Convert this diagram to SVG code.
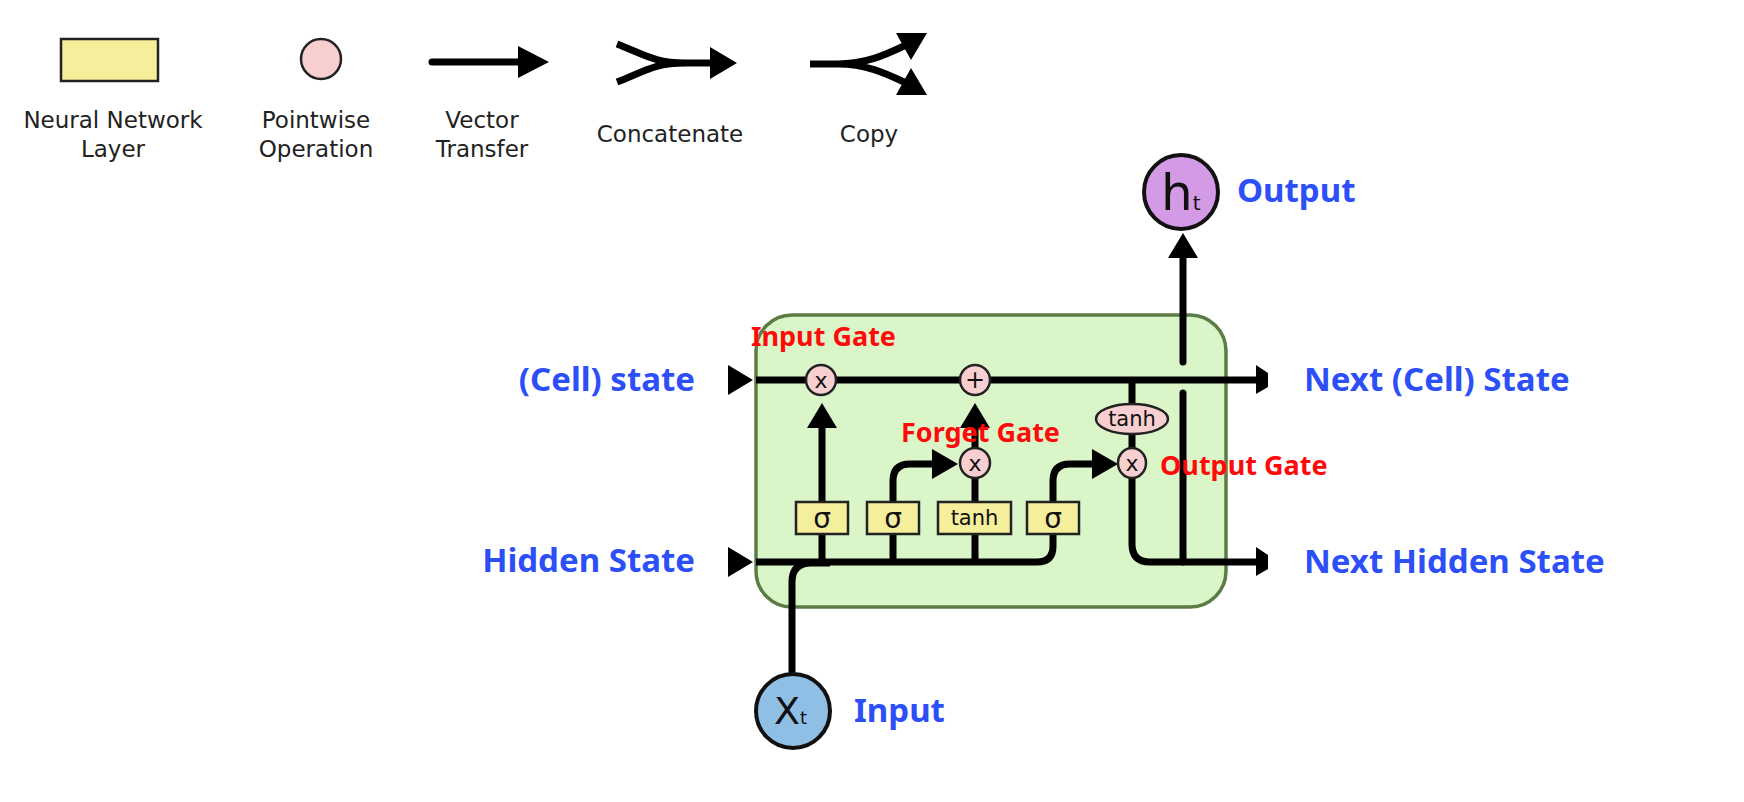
<svg xmlns="http://www.w3.org/2000/svg" width="1744" height="802" viewBox="0 0 1744 802">
<style>
.leg{font-family:"DejaVu Sans",sans-serif;font-size:23px;fill:#222;text-anchor:middle}
.lab{font-family:"Noto Sans","Liberation Sans",sans-serif;font-size:33px;font-weight:bold;fill:#2d4ff7}
.gate{font-family:"Noto Sans","Liberation Sans",sans-serif;font-size:27px;font-weight:bold;fill:#ff0a0a}
.ln{fill:none;stroke:#000;stroke-width:7}
.ah{fill:#000}
.layer{fill:#f5ef9c;stroke:#222;stroke-width:2.5}
.pw{fill:#f8cfd0;stroke:#222;stroke-width:2.5}
.op{font-family:"DejaVu Sans",sans-serif;fill:#111;text-anchor:middle}
</style>
<rect width="1744" height="802" fill="#fff"/>
<g id="legend">
  <rect class="layer" x="61" y="39" width="97" height="42" stroke-width="3"/>
  <text class="leg" x="113" y="128">Neural Network</text>
  <text class="leg" x="113" y="157">Layer</text>
  <circle class="pw" cx="321" cy="59" r="20"/>
  <text class="leg" x="316" y="128">Pointwise</text>
  <text class="leg" x="316" y="157">Operation</text>
  <path class="ln" d="M432,62 H522" stroke-linecap="round"/>
  <polygon class="ah" points="518,46 549,62 518,78"/>
  <text class="leg" x="482" y="128">Vector</text>
  <text class="leg" x="482" y="157">Transfer</text>
  <path class="ln" d="M617,44 C645,55 655,63 685,63 H712 M617,82 C645,71 655,63 685,63"/>
  <polygon class="ah" points="710,47 737,63 710,79"/>
  <text class="leg" x="670" y="142">Concatenate</text>
  <path class="ln" d="M810,64 H838 C865,64 885,55 904,46 M838,64 C865,64 885,73 904,82"/>
  <polygon class="ah" points="927,33 896,33 911,60"/>
  <polygon class="ah" points="927,95 896,95 911,68"/>
  <text class="leg" x="869" y="142">Copy</text>
</g>
<g id="cell">
  <rect x="756" y="315" width="470" height="292" rx="36" fill="#daf6c8" stroke="#5b7c45" stroke-width="3.5"/>
</g>
<g id="connectors">
  <polygon class="ah" points="728,365 753,380 728,395"/>
  <polygon class="ah" points="728,547 753,562 728,577"/>
  <path class="ln" d="M756,380 H1257"/>
  <path class="ln" d="M756,562 H1037 Q1053,562 1053,546 V534"/>
  <path class="ln" d="M792,673 V582 Q792,563 811,563 H830"/>
  <path class="ln" d="M822,562 V534 M893,562 V534 M975,562 V534"/>
  <path class="ln" d="M822,502 V426"/>
  <polygon class="ah" points="807,428 822,403 837,428"/>
  <path class="ln" d="M893,502 V481 Q893,464 910,464 H934"/>
  <polygon class="ah" points="932,449 958,464 932,479"/>
  <path class="ln" d="M975,502 V478 M975,448 V426"/>
  <polygon class="ah" points="960,428 975,403 990,428"/>
  <path class="ln" d="M1053,502 V481 Q1053,464 1070,464 H1094"/>
  <polygon class="ah" points="1092,449 1118,464 1092,479"/>
  <path class="ln" d="M1132,380 V404 M1132,434 V449"/>
  <path class="ln" d="M1132,478 V544 Q1132,562 1150,562 H1257"/>
  <path class="ln" d="M1183,562 V393 M1183,362 V256" stroke-linecap="round"/>
  <polygon class="ah" points="1168,258 1183,233 1198,258"/>
  <polygon class="ah" points="1256,365 1268,373 1268,387 1256,394"/>
  <polygon class="ah" points="1256,547 1268,555 1268,569 1256,576"/>
</g>
<g id="sigma1"><rect class="layer" x="796" y="502" width="52" height="32"/><text class="op" x="822" y="528" font-size="28">σ</text></g>
<g id="sigma2"><rect class="layer" x="867" y="502" width="52" height="32"/><text class="op" x="893" y="528" font-size="28">σ</text></g>
<g id="tanh-layer"><rect class="layer" x="938" y="502" width="73" height="32"/><text class="op" x="974.5" y="525" font-size="21">tanh</text></g>
<g id="sigma3"><rect class="layer" x="1027" y="502" width="52" height="32"/><text class="op" x="1053" y="528" font-size="28">σ</text></g>
<g id="mul-input"><circle class="pw" cx="821" cy="380" r="15"/><text class="op" x="821" y="388" font-size="22">x</text></g>
<g id="add"><circle class="pw" cx="975" cy="380" r="15"/><text class="op" x="975" y="388" font-size="24">+</text></g>
<g id="mul-forget"><circle class="pw" cx="975" cy="463" r="15"/><text class="op" x="975" y="471" font-size="22">x</text></g>
<g id="tanh-op"><ellipse class="pw" cx="1132" cy="419" rx="36" ry="15"/><text class="op" x="1132" y="426" font-size="21">tanh</text></g>
<g id="mul-output"><ellipse class="pw" cx="1132" cy="463" rx="14" ry="15"/><text class="op" x="1132" y="471" font-size="22">x</text></g>
<g id="ht"><circle cx="1181" cy="192" r="37" fill="#d49ae6" stroke="#111" stroke-width="4"/><text font-family="DejaVu Sans,sans-serif" fill="#111" x="1161" y="210" font-size="50">h<tspan font-size="20">t</tspan></text></g>
<g id="xt"><circle cx="793" cy="711" r="37" fill="#90bfe6" stroke="#111" stroke-width="4"/><text font-family="DejaVu Sans,sans-serif" fill="#111" x="774" y="724" font-size="38">X<tspan font-size="18">t</tspan></text></g>
<g id="labels">
  <text class="lab" x="695" y="391" text-anchor="end">(Cell) state</text>
  <text class="lab" x="695" y="572" text-anchor="end">Hidden State</text>
  <text class="lab" x="1304" y="391">Next (Cell) State</text>
  <text class="lab" x="1304" y="573">Next Hidden State</text>
  <text class="lab" x="1237" y="202">Output</text>
  <text class="lab" x="854" y="722">Input</text>
  <text class="gate" x="751" y="346">Input Gate</text>
  <text class="gate" x="901" y="442">Forget Gate</text>
  <text class="gate" x="1160" y="475">Output Gate</text>
</g>
</svg>
